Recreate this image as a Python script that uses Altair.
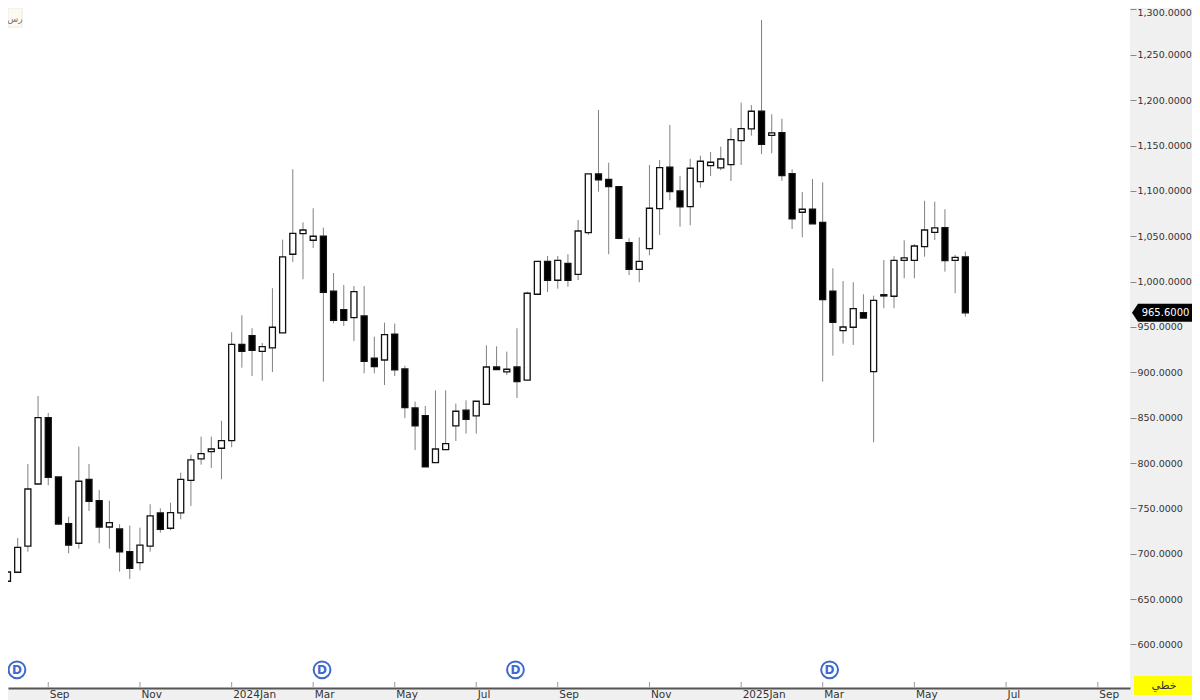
import json
import altair as alt
import pandas as pd

opens = [669.7,679.6,708.3,776.9,850,784.6,733.2,711.6,782.1,758.5,729.5,727.3,702.3,690.2,708.3,745,728.1,745,781,804.5,
812.5,816.3,824.7,930.9,940.4,923.2,926.9,943.4,1030.2,1052.9,1045.6,1050,989.4,969.1,960.3,962.1,915.5,913.6,942,903.7,
860.7,852.2,800.4,814.7,840.9,858.2,851.9,864.8,905.9,900.4,905.9,891.3,986.1,1022.4,1001.5,1020.2,1008.1,1054,1118.7,1112.8,
1104.7,1042.9,1013.6,1036.3,1080.4,1126.1,1099.9,1082.6,1110.2,1127.8,1125.3,1128.9,1155.4,1168.3,1187.8,1161.3,1164.2,1119,1076.5,1079.8,
1065.4,989.4,945.9,949.7,965.8,900.7,985.6,983.9,1023.5,1023.5,1038.5,1054.4,1059.5,1023.5,1027.2]
closes = [679.9,707.1,771.4,850,784.3,732.8,709.4,779.9,757.9,729.5,734.3,702,684,709.4,741.7,727,745.3,782.1,803.4,810.3,
815.5,824.7,930.9,923.2,924.3,928.3,949.7,1027.2,1053.3,1056.9,1050,988.3,957.4,957.4,988.9,912.2,906.2,941.5,902.6,861,
840.9,795.7,815.5,821.4,857.1,848.3,868.1,905.9,902.9,903.4,889.7,987.2,1022.4,1001.5,1023.5,1001.5,1055.8,1118.7,1112.1,1104.7,
1047.8,1013.6,1022.4,1080.9,1125.6,1099.2,1082.3,1125,1132.7,1131.6,1135.2,1156.5,1168.6,1187.8,1151.4,1163.9,1116.8,1069.1,1079.8,1063.6,
980.1,955.2,950,970.2,959.9,979.4,984.2,1023.5,1026.1,1039.3,1056.9,1059.2,1023.1,1026.8,965.6]
highs = [716,717.4,799,873.9,855.2,784.6,740.9,818.1,799,770.3,758.5,732.5,731,728.8,754.6,750.1,756.3,789.4,809.2,829.1,
829.1,846.7,944.2,962.9,948.6,932.4,992.7,1046.3,1123.9,1065.4,1080.9,1059.5,1009.5,996.3,995.2,995.2,939.3,954.7,953.6,907.3,
867.7,862.9,880.2,880.2,865.5,869.2,868.1,929.8,928.7,922.8,948.6,988.9,1022.4,1028.3,1028.3,1030.2,1068,1118.7,1189.2,1131.1,
1104.7,1047.8,1048.9,1128.6,1134.1,1172.7,1116.5,1135.5,1138.9,1142.9,1148.8,1169.1,1197.3,1194.7,1288.5,1184.5,1179.6,1123.9,1098.8,1113.2,
1109.5,1014.7,1000.7,999.3,986.1,984.5,1023.9,1028.3,1045.6,1041.2,1089.2,1088.1,1079.8,1029.4,1033]
lows = [665.6,679.6,702.3,776.9,775.5,731.7,700.5,705.6,747.2,711.6,705.6,680.3,672.2,681.8,702.3,723.2,725.9,738,752.7,798.2,
794.6,782.1,817.4,905.1,896,890.8,900.4,943.4,1021.7,1002.6,1037.1,889.7,954.1,951.1,934.6,899,899,886.1,896,849.4,
814.4,795.7,800.4,814.7,824.3,832.4,832.4,864.8,902.9,897.1,871.7,891.3,986.1,988.6,992.2,994.4,1001.8,1051.4,1099.2,1030.2,
1046.7,1007.3,999.3,1029.1,1051.4,1089.7,1060.6,1062.1,1103.6,1116.5,1122.8,1111,1128.6,1160.9,1140.7,1141.5,1111,1058.1,1048.9,1063.6,
889.7,918.4,931.6,930.2,959.9,822.9,970.6,970.6,1003.7,1003.7,1027.5,1045.9,1011,987.2,961.4]
candle_index = list(range(len(opens)))

month_ticks = [4, 13, 22, 30, 38, 46, 54, 63, 72, 80, 89, 98, 107]
month_labels = ["Sep", "Nov", "2024Jan", "Mar", "May", "Jul", "Sep", "Nov", "2025Jan", "Mar", "May", "Jul", "Sep"]
price_ticks = [600, 650, 700, 750, 800, 850, 900, 950, 1000, 1050, 1100, 1150, 1200, 1250, 1300]
dividend_index = [0.93, 30.87, 49.85, 80.68]
dividend_level = [572, 572, 572, 572]
last_price = [965.6]
last_label = ["965.6000"]

FONT = "DejaVu Sans"
X = alt.Scale(domain=[0.05, 110.16], nice=False, zero=False, padding=0)
Y = alt.Scale(domain=[552.0, 1301.65], nice=False, zero=False, padding=0)

df = pd.DataFrame({"i": candle_index, "open": opens, "close": closes, "high": highs, "low": lows})
label_map = json.dumps({str(k): v for k, v in zip(month_ticks, month_labels)})

x_axis = alt.Axis(
    values=month_ticks, labelExpr=f"{label_map}[datum.value]", title=None, grid=False, ticks=False,
    domainColor="#555555", domainWidth=2, labelAlign="left", labelBaseline="top", labelPadding=1,
    labelFont=FONT, labelFontSize=10.5, labelColor="#333333", labelOverlap=False, labelFlush=False, labelOffset=1,
)
y_axis = alt.Axis(
    values=price_ticks, format=",.4f", orient="right", title=None, grid=False, domain=False,
    tickColor="#888888", tickSize=6, labelPadding=1, labelFont=FONT, labelFontSize=9.5, labelColor="#333333",
    labelOverlap=False, labelFlush=False,
    labelOffset={"condition": {"test": "datum.value == 1300", "value": 3}, "value": 0},
)
ex = alt.X("i:Q", scale=X, axis=x_axis)


def ey(field):
    return alt.Y(field, scale=Y, axis=y_axis)


wicks = alt.Chart(df).mark_rule(color="#808080", strokeWidth=1, clip=True).encode(
    x=ex, y=ey("low:Q"), y2="high:Q",
)
bodies = alt.Chart(df).mark_bar(size=6, stroke="#111111", strokeWidth=1.3, clip=True).encode(
    x=ex, y=ey("open:Q"), y2="close:Q",
    fill=alt.condition("datum.close > datum.open", alt.value("white"), alt.value("black")),
)

ticks_df = pd.DataFrame({"i": month_ticks})
month_marks = alt.Chart(ticks_df).mark_rule(color="#999999", strokeWidth=1).encode(
    x=ex, y=alt.value(674), y2=alt.value(679),
)

div_df = pd.DataFrame({"i": dividend_index, "p": dividend_level, "t": ["D"] * 4})
div_circle = alt.Chart(div_df).mark_point(shape="circle", size=283, filled=False, stroke="#3f68cf", strokeWidth=2, opacity=1).encode(
    x=ex, y=ey("p:Q"),
)
div_text = alt.Chart(div_df).mark_text(font=FONT, fontSize=12, fontWeight="bold", color="#3f68cf").encode(
    x=ex, y=ey("p:Q"), text="t:N",
)

last_df = pd.DataFrame({"p": last_price, "t": last_label})
tag_rect = alt.Chart(last_df).mark_rule(color="black", strokeWidth=18).encode(
    x=alt.value(1130), x2=alt.value(1184), y=ey("p:Q"),
)
tag_tip = alt.Chart(last_df).mark_point(shape="M0,0L1,-1.5L1,1.5Z", size=144, filled=True, color="black", opacity=1).encode(
    x=alt.value(1124), y=ey("p:Q"),
)
tag_text = alt.Chart(last_df).mark_text(font=FONT, fontSize=10, color="white").encode(
    x=alt.value(1157.5), y=ey("p:Q"), text="t:N",
)

style_df = pd.DataFrame({"t": ["خطي"]})
yellow = alt.Chart(style_df).mark_rect(color="#ffff00").encode(
    x=alt.value(1126), x2=alt.value(1184), y=alt.value(668), y2=alt.value(687),
)
yellow_text = alt.Chart(style_df).mark_text(font=FONT, fontSize=11, color="#333333").encode(
    x=alt.value(1156), y=alt.value(678), text="t:N",
)

btn_df = pd.DataFrame({"t": ["رس"]})
button = alt.Chart(btn_df).mark_rect(fill="#fdfaf6", stroke="#efe9e2", strokeWidth=1).encode(
    x=alt.value(0), x2=alt.value(14), y=alt.value(0), y2=alt.value(19),
)
button_text = alt.Chart(btn_df).mark_text(font=FONT, fontSize=9, color="#777777").encode(
    x=alt.value(7), y=alt.value(11), text="t:N",
)

chart = alt.layer(
    wicks, bodies, month_marks, div_circle, div_text, button, button_text,
    tag_rect, tag_tip, tag_text, yellow, yellow_text,
).properties(
    width=1122, height=680, background="#f0f0f0",
    autosize=alt.AutoSizeParams(type="none"),
    padding={"left": 0, "top": 0, "right": 62, "bottom": 12},
).configure_view(fill="white", strokeWidth=0)

chart.save("out.html", embed_options={"renderer": "svg", "actions": False})
